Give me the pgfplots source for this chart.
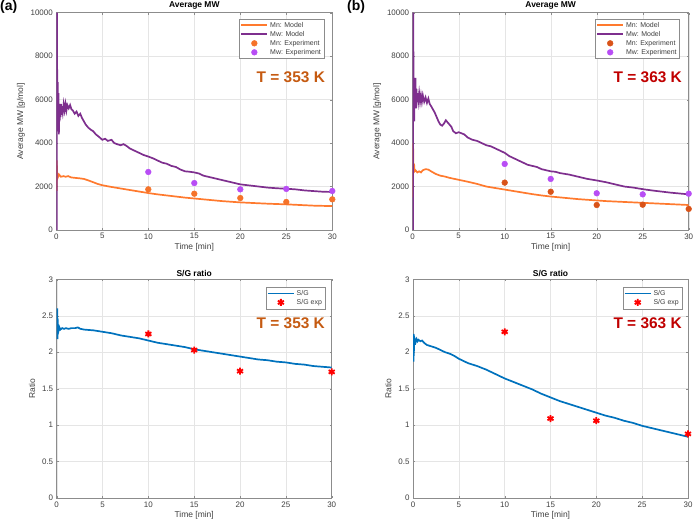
\documentclass[border=0pt]{standalone}
\usepackage{fontspec}
\setmainfont{Liberation Sans}
\usepackage{pgfplots}
\pgfplotsset{compat=1.18}
\definecolor{mnline}{HTML}{FF7A2E}
\definecolor{mwline}{HTML}{7E2F8E}
\definecolor{mnexpA}{HTML}{F5732A}
\definecolor{mnexpB}{HTML}{D95319}
\definecolor{mwexp}{HTML}{B84DF5}
\definecolor{sgline}{HTML}{0072BD}
\definecolor{tA}{HTML}{C55A11}
\definecolor{tB}{HTML}{C00000}
\definecolor{axgray}{HTML}{404040}
\pgfplotsset{
  myax/.style={
    scale only axis,
    xmin=0, xmax=30,
    xtick={0,5,...,30},
    grid=major,
    grid style={color=black!10, line width=0.4bp},
    axis line style={color=black!45, line width=0.5bp},
    tick style={color=black!45},
    major tick length=2bp,
    tick align=inside,
    scaled y ticks=false,
    /pgf/number format/assume math mode=true,
    /pgf/number format/1000 sep={},
    tick label style={font=\fontsize{8}{9}\selectfont, text=axgray},
    label style={font=\fontsize{8.5}{10}\selectfont, text=axgray},
    title style={font=\bfseries\fontsize{8.5}{10}\selectfont, yshift=-6.5bp},
    xlabel={Time [min]},
    xlabel style={yshift=3bp},
    legend cell align=left,
    legend style={font=\fontsize{7}{8}\selectfont, text=axgray, draw=black!45,
      inner sep=1bp, row sep=-1.5bp, anchor=north east},
  },
  topax/.style={myax, width=276bp, height=217.3bp, ymin=0, ymax=10000,
    ytick={0,2000,...,10000}, ylabel={Average MW [g/mol]}, title={Average MW},
    ylabel style={yshift=-1bp}},
  botax/.style={myax, width=275bp, height=218.7bp, ymin=0, ymax=3,
    ytick={0,0.5,...,3}, ylabel={Ratio}, title={S/G ratio}},
  legend image code/.code={\draw[mark repeat=2,mark phase=2,#1] plot coordinates {(0bp,0bp) (13bp,0bp) (26bp,0bp)};},
  curve/.style={line width=1.7bp, legend image post style={line width=1.7bp}},
}
\begin{document}
\begin{tikzpicture}
\path[use as bounding box] (0,0) rectangle (694bp,525bp);
\node[anchor=north west, inner sep=0pt, font=\bfseries\fontsize{14}{16}\selectfont] at (0bp,525bp) {(a)};
\node[anchor=north west, inner sep=0pt, font=\bfseries\fontsize{14}{16}\selectfont] at (347bp,525bp) {(b)};
% ---------------- top left
\begin{axis}[topax, at={(56.3bp,295bp)}, anchor=south west, legend style={at={(0.97,0.972)}}]
\addplot[mnline, curve] coordinates {
(0.05,1800) (0.06,3200) (0.08,2300) (0.12,2600) (0.2,2450) (0.3,2550) (0.5,2450) (0.8,2480) (1.0,2450) (1.3,2480) (1.6,2420) (2.0,2400) (2.5,2380) (3.0,2350) (3.5,2280) (4.0,2200) (4.5,2120) (5.0,2060) (6,1980) (7,1910) (8,1840) (9,1770) (10,1700) (11,1640) (12,1590) (13,1540) (14,1490) (15,1450) (16,1410) (17,1370) (18,1330) (19,1300) (20,1270) (21,1250) (22,1230) (23,1210) (24,1195) (25,1180) (26,1160) (27,1140) (28,1120) (29,1110) (30,1100)};
\addlegendentry{Mn: Model}
\addplot[mwline, curve] coordinates {
(0.05,0) (0.07,10000) (0.1,6500) (0.13,5200) (0.16,6800) (0.2,5000) (0.24,6300) (0.28,4400) (0.32,5800) (0.36,5000) (0.4,5700) (0.45,5200) (0.5,5800) (0.55,5300) (0.6,5700) (0.7,5400) (0.8,5800) (0.9,5500) (1.0,5800) (1.1,5500) (1.2,5750) (1.35,5600) (1.5,5750) (1.65,5550) (1.8,5500) (2.0,5350) (2.2,5450) (2.4,5250) (2.6,5350) (2.8,5150) (3.0,5000) (3.2,4850) (3.5,4700) (3.8,4600) (4.0,4550) (4.3,4400) (4.6,4300) (5.0,4150) (5.3,4200) (5.6,4100) (6.0,4150) (6.3,4000) (6.6,3950) (7.0,3900) (7.3,3950) (7.6,3880) (8.0,3750) (8.5,3650) (9.0,3550) (9.5,3450) (10,3380) (10.5,3300) (11,3200) (11.5,3100) (12,3050) (12.5,2950) (13,2900) (13.5,2780) (14,2700) (14.5,2680) (15,2650) (15.5,2600) (16,2500) (16.5,2450) (17,2400) (17.5,2350) (18,2300) (18.5,2250) (19,2200) (19.5,2150) (20,2100) (21,2050) (22,2000) (23,1950) (24,1920) (25,1900) (26,1870) (27,1820) (28,1790) (29,1760) (30,1750)};
\addlegendentry{Mw: Model}
\addplot[only marks, mark=*, mark size=2.9bp, color=mnexpA] coordinates {(10,1870) (15,1670) (20,1470) (25,1290) (30,1410)};
\addlegendentry{Mn: Experiment}
\addplot[only marks, mark=*, mark size=2.9bp, color=mwexp] coordinates {(10,2670) (15,2160) (20,1870) (25,1890) (30,1795)};
\addlegendentry{Mw: Experiment}
\node[anchor=east, inner sep=0pt, text=tA, font=\bfseries\fontsize{15.5}{18}\selectfont] at (rel axis cs:0.974,0.704) {T = 353 K};
\end{axis}
% ---------------- top right
\begin{axis}[topax, at={(412.7bp,295bp)}, anchor=south west, legend style={at={(0.968,0.972)}}]
\addplot[mnline, curve] coordinates {
(0.03,1500) (0.04,4000) (0.07,3100) (0.1,2800) (0.15,3050) (0.2,2700) (0.3,2750) (0.5,2650) (0.7,2700) (0.9,2650) (1.1,2750) (1.4,2800) (1.7,2780) (2.0,2700) (2.5,2580) (3.0,2500) (3.5,2460) (4,2400) (5,2310) (6,2220) (7,2120) (8,2000) (9,1930) (10,1860) (11,1790) (12,1720) (13,1650) (14,1590) (15,1540) (16,1500) (17,1460) (18,1420) (19,1390) (20,1360) (21,1330) (22,1310) (23,1290) (24,1270) (25,1250) (26,1230) (27,1210) (28,1190) (29,1170) (30,1150)};
\addlegendentry{Mn: Model}
\addplot[mwline, curve] coordinates {
(0.03,0) (0.05,10000) (0.08,7900) (0.1,5500) (0.13,7000) (0.16,5000) (0.2,6600) (0.25,5800) (0.3,7000) (0.35,5600) (0.4,6500) (0.45,5900) (0.5,6300) (0.6,5900) (0.7,6300) (0.8,5900) (0.9,6200) (1.0,5900) (1.1,6200) (1.25,5900) (1.4,6100) (1.55,5850) (1.7,6050) (1.85,5800) (2.0,5700) (2.2,5550) (2.4,5400) (2.6,5200) (2.8,5000) (3.0,4850) (3.2,4800) (3.4,4900) (3.6,5050) (3.8,4950) (4.0,4850) (4.2,4750) (4.4,4550) (4.7,4450) (5.0,4500) (5.3,4450) (5.6,4400) (6.0,4250) (6.5,4150) (7,4100) (7.5,4000) (8,3900) (8.5,3850) (9,3750) (9.5,3650) (10,3550) (10.5,3400) (11,3300) (11.5,3200) (12,3100) (12.5,3000) (13,2950) (13.5,2900) (14,2800) (14.5,2750) (15,2700) (15.5,2680) (16,2620) (17,2550) (18,2450) (19,2350) (20,2280) (21,2200) (22,2100) (23,2000) (24,1950) (25,1880) (26,1820) (27,1770) (28,1720) (29,1680) (30,1640)};
\addlegendentry{Mw: Model}
\addplot[only marks, mark=*, mark size=2.9bp, color=mnexpB] coordinates {(10,2180) (15,1760) (20,1150) (25,1165) (30,970)};
\addlegendentry{Mn: Experiment}
\addplot[only marks, mark=*, mark size=2.9bp, color=mwexp] coordinates {(10,3040) (15,2350) (20,1690) (25,1640) (30,1670)};
\addlegendentry{Mw: Experiment}
\node[anchor=east, inner sep=0pt, text=tB, font=\bfseries\fontsize{15.5}{18}\selectfont] at (rel axis cs:0.976,0.704) {T = 363 K};
\end{axis}
% ---------------- bottom left
\begin{axis}[botax, at={(56.7bp,27bp)}, anchor=south west, legend style={at={(0.976,0.965)}}]
\addplot[sgline, curve] coordinates {
(0.05,2.2) (0.07,2.6) (0.09,2.18) (0.11,2.45) (0.14,2.28) (0.18,2.38) (0.22,2.3) (0.3,2.34) (0.4,2.31) (0.6,2.33) (0.8,2.32) (1.0,2.33) (1.3,2.32) (1.6,2.33) (2.0,2.33) (2.3,2.34) (2.6,2.32) (3,2.31) (4,2.3) (5,2.28) (6,2.26) (7,2.23) (8,2.21) (9,2.19) (10,2.16) (11,2.13) (12,2.11) (13,2.09) (14,2.07) (15,2.04) (16,2.02) (17,2.0) (18,1.98) (19,1.96) (20,1.94) (21,1.92) (22,1.9) (23,1.89) (24,1.87) (25,1.86) (26,1.84) (27,1.83) (28,1.81) (29,1.8) (30,1.79)};
\addlegendentry{S/G}
\addplot[only marks, mark=asterisk, mark size=3.5bp, color=red, line width=1.8bp] coordinates {(10,2.25) (15,2.03) (20,1.74) (30,1.73)};
\addlegendentry{S/G exp}
\node[anchor=east, inner sep=0pt, text=tA, font=\bfseries\fontsize{15.5}{18}\selectfont] at (rel axis cs:0.976,0.80) {T = 353 K};
\end{axis}
% ---------------- bottom right
\begin{axis}[botax, at={(413bp,27bp)}, anchor=south west, legend style={at={(0.978,0.965)}}]
\addplot[sgline, curve] coordinates {
(0.05,1.87) (0.07,2.25) (0.09,1.95) (0.12,2.2) (0.16,2.1) (0.2,2.18) (0.3,2.14) (0.4,2.18) (0.5,2.15) (0.6,2.17) (0.8,2.15) (1.0,2.16) (1.2,2.13) (1.5,2.1) (2,2.08) (2.5,2.06) (3,2.03) (3.5,2.0) (4,1.98) (4.5,1.95) (5,1.91) (6,1.85) (7,1.81) (8,1.76) (9,1.7) (10,1.64) (11,1.59) (12,1.54) (13,1.49) (14,1.43) (15,1.38) (16,1.33) (17,1.29) (18,1.25) (19,1.21) (20,1.17) (21,1.13) (22,1.1) (23,1.06) (24,1.03) (25,0.99) (26,0.96) (27,0.93) (28,0.9) (29,0.87) (30,0.84)};
\addlegendentry{S/G}
\addplot[only marks, mark=asterisk, mark size=3.5bp, color=red, line width=1.8bp] coordinates {(10,2.28) (15,1.09) (20,1.06) (30,0.88)};
\addlegendentry{S/G exp}
\node[anchor=east, inner sep=0pt, text=tB, font=\bfseries\fontsize{15.5}{18}\selectfont] at (rel axis cs:0.978,0.80) {T = 363 K};
\end{axis}
\end{tikzpicture}
\end{document}
